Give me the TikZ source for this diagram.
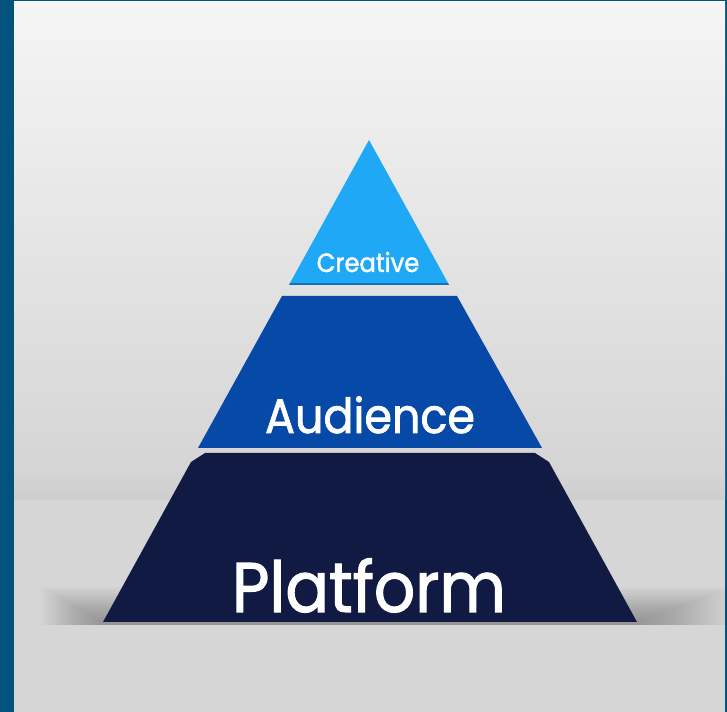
\documentclass[tikz,border=0pt]{standalone}
\usepackage{xcolor}
\usepackage{tikz, tkz-euclide}
\usepackage{fontspec}
\newfontfamily\layerfont{Poppins}[FakeBold=1.5, FakeStretch=0.92]
\usetikzlibrary{calc}

\definecolor{frameblue}{HTML}{02527E}
\definecolor{creativeblue}{HTML}{1EA8F5}
\definecolor{creativeedge}{HTML}{1670B8}
\definecolor{audienceblue}{HTML}{0749A6}
\definecolor{platformnavy}{HTML}{111A42}
\definecolor{walltop}{HTML}{F5F5F5}
\definecolor{wallbottom}{HTML}{D3D3D3}
\definecolor{floorgray}{HTML}{D6D6D6}

\tikzset{
  layer label/.style={text=white, anchor=base, inner sep=0pt},
}

\begin{document}
\begin{tikzpicture}[x=0.02cm, y=0.02cm]
      \useasboundingbox (0,0) rectangle (727,712);%
      % frame and room
      \fill[frameblue] (0,0) rectangle (727,712);%
      \fill[floorgray] (14,0) rectangle (725,212);%
      \shade[top color=walltop, bottom color=wallbottom] (14,212) rectangle (725,710);%
      \shade[top color=wallbottom, bottom color=black!22, opacity=0.4] (14,212) rectangle (725,236);%
      % soft shadow at the foot of the pyramid
      \foreach \i in {0,...,24}{%
        \fill[black, opacity=0.012] (103-\i*2.6,87) -- (103-\i*2.6,89+\i*1.5) -- (637+\i*4,89+\i*1.5) -- (637+\i*4,87) -- cycle;%
      }%

      \tkzDefPoints{103/90/P1, 191/250/P2, 205/259/P3, 535/259/P4, 549/250/P5, 637/90/P6}%
      \tkzDefPoints{198/264/A1, 282/416/A2, 457/416/A3, 542/264/A4}%
      \tkzDefPoints{290/429/C1, 448/429/C2, 369/572/C3, 289/427/E1, 449/427/E2}%

      % the three layers
      \fill[platformnavy] (P1) -- (P2) -- (P3) -- (P4) -- (P5) -- (P6) -- cycle;%
      \fill[audienceblue] (A1) -- (A2) -- (A3) -- (A4) -- cycle;%
      \fill[creativeedge] (E1) -- (C1) -- (C2) -- (E2) -- cycle;%
      \fill[creativeblue] (C1) -- (C3) -- (C2) -- cycle;%

      \node[layer label, font=\layerfont\fontsize{15}{18}\selectfont] (creative) at (368,440) {Creative};%
      \node[layer label, font=\layerfont\fontsize{27.5}{32}\selectfont] (audience) at (370,279) {Audience};%
      \node[layer label, font=\layerfont\fontsize{40}{46}\selectfont] (platform) at (369,100) {Platform};%
    \end{tikzpicture}
\end{document}
